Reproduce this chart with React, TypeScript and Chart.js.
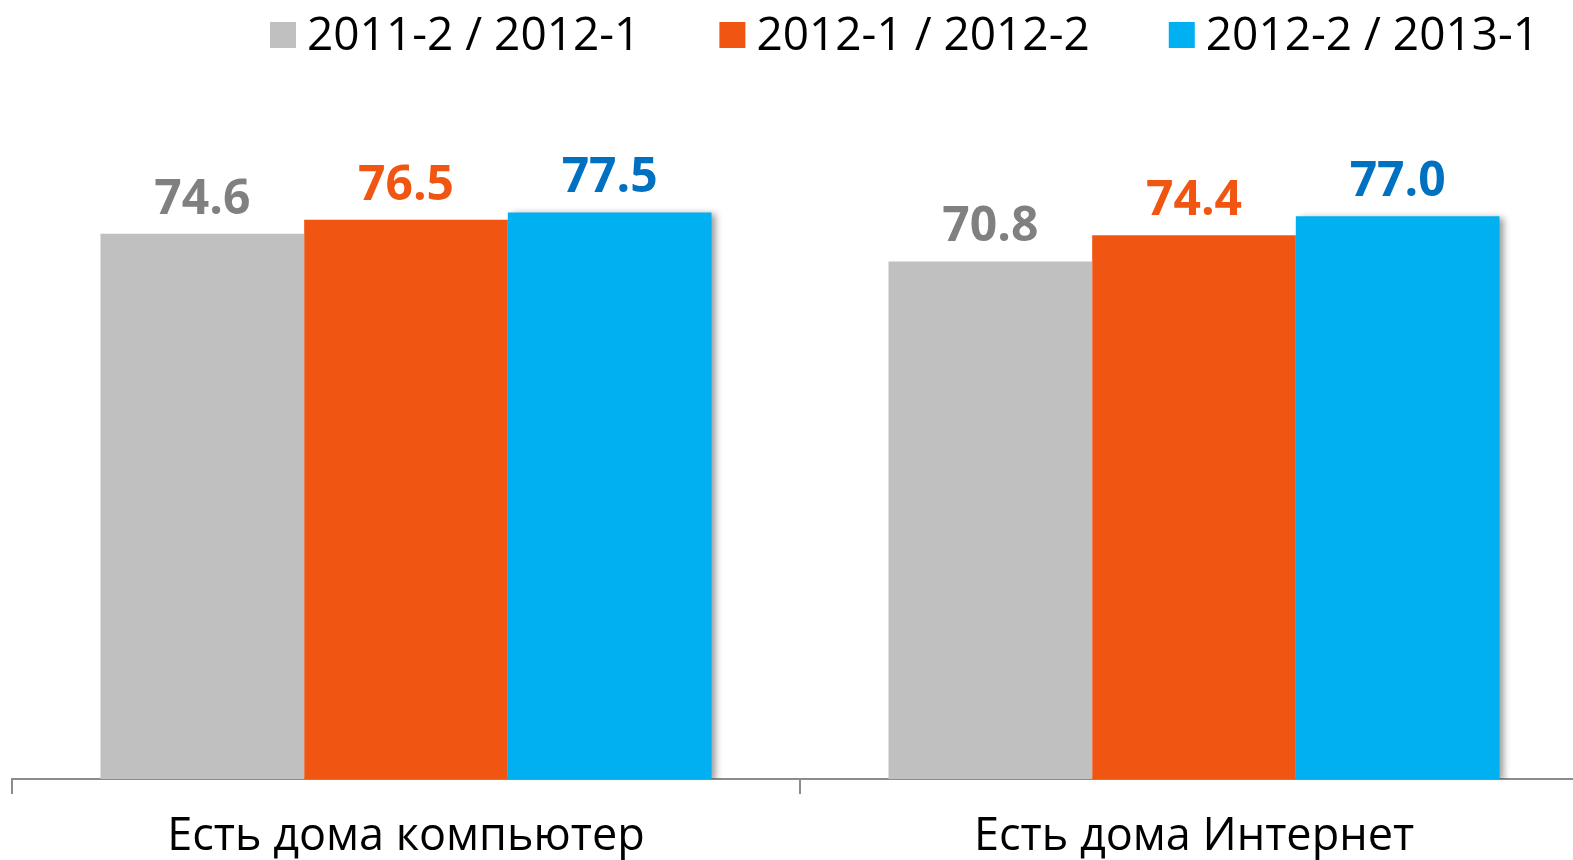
import React, { useEffect, useRef } from "react";
import { Chart, registerables } from "chart.js";

Chart.register(...registerables);

const categories = ["Есть дома компьютер", "Есть дома Интернет"];
const seriesLabels = ["2011-2 / 2012-1", "2012-1 / 2012-2", "2012-2 / 2013-1"];
const series1 = [74.6, 70.8];
const series2 = [76.5, 74.4];
const series3 = [77.5, 77.0];
const barColors = ["#C0C0C0", "#F05612", "#00B0F0"];
const labelColors = ["#808080", "#F05612", "#0070C0"];

const FONT = "'Open Sans', 'Noto Sans', sans-serif";

const shadowPlugin = {
  id: "barShadow",
  beforeDatasetDraw(chart: any, args: any) {
    if (args.index === 2) {
      const ctx = chart.ctx;
      ctx.save();
      ctx.shadowColor = "rgba(0,0,0,0.4)";
      ctx.shadowBlur = 7;
      ctx.shadowOffsetX = 4;
      ctx.shadowOffsetY = 2;
    }
  },
  afterDatasetDraw(chart: any, args: any) {
    if (args.index === 2) chart.ctx.restore();
  },
};

const valueLabelPlugin = {
  id: "valueLabels",
  afterDatasetsDraw(chart: any) {
    const ctx = chart.ctx;
    ctx.save();
    ctx.font = `bold 48px ${FONT}`;
    ctx.textAlign = "center";
    ctx.textBaseline = "alphabetic";
    chart.data.datasets.forEach((ds: any, di: number) => {
      const meta = chart.getDatasetMeta(di);
      meta.data.forEach((bar: any, i: number) => {
        ctx.fillStyle = labelColors[di];
        ctx.fillText(Number(ds.data[i]).toFixed(1), bar.x, bar.y - 20);
      });
    });
    ctx.restore();
  },
};

const legendPlugin = {
  id: "customLegend",
  afterDraw(chart: any) {
    const ctx = chart.ctx;
    ctx.save();
    ctx.font = `46px ${FONT}`;
    ctx.textBaseline = "alphabetic";
    ctx.textAlign = "left";
    let x = 270;
    const box = 26;
    chart.data.datasets.forEach((ds: any) => {
      ctx.fillStyle = ds.backgroundColor;
      ctx.fillRect(x, 22, box, box);
      ctx.fillStyle = "#000000";
      ctx.fillText(ds.label, x + box + 11, 50);
      const w = ctx.measureText(ds.label).width;
      x += box + 11 + w + 79;
    });
    ctx.restore();
  },
};

export default function App() {
  const ref = useRef<HTMLCanvasElement | null>(null);
  useEffect(() => {
    document.body.style.margin = "0";
    document.body.style.overflow = "hidden";
    const chart = new Chart(ref.current as HTMLCanvasElement, {
      type: "bar",
      data: {
        labels: categories,
        datasets: [
          { label: seriesLabels[0], data: series1, backgroundColor: barColors[0] },
          { label: seriesLabels[1], data: series2, backgroundColor: barColors[1] },
          { label: seriesLabels[2], data: series3, backgroundColor: barColors[2] },
        ],
      },
      options: {
        animation: false,
        responsive: true,
        maintainAspectRatio: false,
        layout: { padding: { top: 48, left: 12, right: 12, bottom: -20 } },
        datasets: { bar: { categoryPercentage: 0.7754, barPercentage: 1, borderWidth: 0 } },
        plugins: { legend: { display: false }, tooltip: { enabled: false } },
        scales: {
          x: {
            z: 1,
            border: { display: true, color: "#8C8C8C", width: 2 },
            grid: {
              display: true,
              drawOnChartArea: false,
              drawTicks: true,
              tickLength: 15,
              color: "#8C8C8C",
              lineWidth: 2,
            },
            ticks: {
              color: "#000000",
              padding: 16,
              font: { family: FONT, size: 45 },
            },
          },
          y: { display: false, min: 0, max: 100 },
        },
      },
      plugins: [shadowPlugin, valueLabelPlugin, legendPlugin],
    });
    return () => chart.destroy();
  }, []);
  return (
    <div style={{ position: "fixed", left: 0, top: 0, width: 1573, height: 860, overflow: "hidden", background: "#fff" }}>
      <div style={{ position: "relative", width: 1600, height: 860 }}>
        <canvas ref={ref} />
      </div>
    </div>
  );
}
